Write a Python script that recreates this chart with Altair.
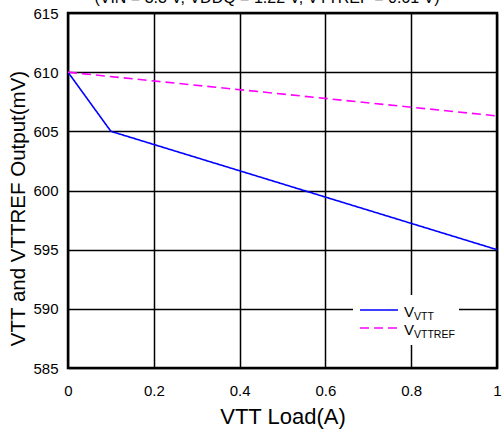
import altair as alt
import pandas as pd

vtt_load = [0.0, 0.1, 1.0]
vtt_mv = [610.0, 605.0, 595.0]
ref_load = [0.0, 1.0]
ref_mv = [610.0, 606.3]

df = pd.DataFrame(
    {"load": vtt_load + ref_load,
     "mv": vtt_mv + ref_mv,
     "series": ["VTT"] * len(vtt_load) + ["VTTREF"] * len(ref_load)}
)

FONT = "Liberation Sans"
xs = alt.Scale(domain=[0, 1], nice=False)
ys = alt.Scale(domain=[585, 615], nice=False, zero=False)

x_axis = alt.Axis(values=[0, 0.2, 0.4, 0.6, 0.8, 1], labelExpr="datum.value == 0 ? '0' : datum.value == 1 ? '1' : format(datum.value, '.1f')",
                  grid=True, gridColor="black", gridWidth=1.5, gridOpacity=1,
                  domain=False, ticks=False, labelPadding=15, labelFontSize=15,
                  labelFont=FONT, labelColor="black", title="VTT Load(A)",
                  titleFont=FONT, titleFontSize=22, titleFontWeight="normal",
                  titleColor="black", titlePadding=8, labelFlush=False)
y_axis = alt.Axis(values=[585, 590, 595, 600, 605, 610, 615], grid=True,
                  gridColor="black", gridWidth=1.5, gridOpacity=1,
                  domain=False, ticks=False, labelPadding=10, labelFontSize=15,
                  labelFont=FONT, labelColor="black",
                  title="VTT and VTTREF Output(mV)", titleFont=FONT,
                  titleFontSize=20.5, titleFontWeight="normal", titleColor="black",
                  titlePadding=4, titleY=195)

cdom = ["VTT", "VTTREF"]
cscale = alt.Scale(domain=cdom, range=["#0000FF", "#FF00FF"])
dscale = alt.Scale(domain=cdom, range=[[1, 0], [9, 5]])

lines = alt.Chart(df).mark_line(strokeWidth=1.6, clip=True).encode(
    x=alt.X("load:Q", scale=xs, axis=x_axis),
    y=alt.Y("mv:Q", scale=ys, axis=y_axis),
    color=alt.Color("series:N", scale=cscale, legend=None),
    strokeDash=alt.StrokeDash("series:N", scale=dscale, legend=None),
)

# legend box
leg_box = alt.Chart(pd.DataFrame({"a": [0]})).mark_rect(color="white").encode(
    x=alt.value(285), x2=alt.value(391), y=alt.value(282), y2=alt.value(332))
leg_lines = alt.Chart(pd.DataFrame({"series": cdom, "yy": [297, 315]})).mark_rule(strokeWidth=1.6).encode(
    x=alt.value(292), x2=alt.value(330), y=alt.Y("yy:Q", scale=None),
    color=alt.Color("series:N", scale=cscale, legend=None),
    strokeDash=alt.StrokeDash("series:N", scale=dscale, legend=None),
)
leg_v = alt.Chart(pd.DataFrame({"t": ["V", "V"], "yy": [304, 322]})).mark_text(
    font=FONT, fontSize=15, align="left", baseline="alphabetic", color="black").encode(
    x=alt.value(336), y=alt.Y("yy:Q", scale=None), text="t:N")
leg_sub = alt.Chart(pd.DataFrame({"t": ["VTT", "VTTREF"], "yy": [307, 325]})).mark_text(
    font=FONT, fontSize=10.5, align="left", baseline="alphabetic", color="black").encode(
    x=alt.value(346), y=alt.Y("yy:Q", scale=None), text="t:N")

title = alt.Chart(pd.DataFrame({"t": ["(VIN = 3.3 V, VDDQ = 1.22 V, VTTREF = 0.61 V)"]})).mark_text(
    font=FONT, fontSize=16, align="center", baseline="alphabetic", color="black", clip=False).encode(
    x=alt.value(199), y=alt.value(-10), text="t:N")

chart = alt.layer(lines, leg_box, leg_lines, leg_v, leg_sub, title).properties(
    width=429, height=355,
    autosize=alt.AutoSizeParams(type="none"),
    padding={"left": 68, "top": 13, "right": 5, "bottom": 63},
    background="white",
).configure_view(stroke="black", strokeWidth=2.5)

chart.save("out.html", embed_options={"renderer": "svg", "actions": False})
